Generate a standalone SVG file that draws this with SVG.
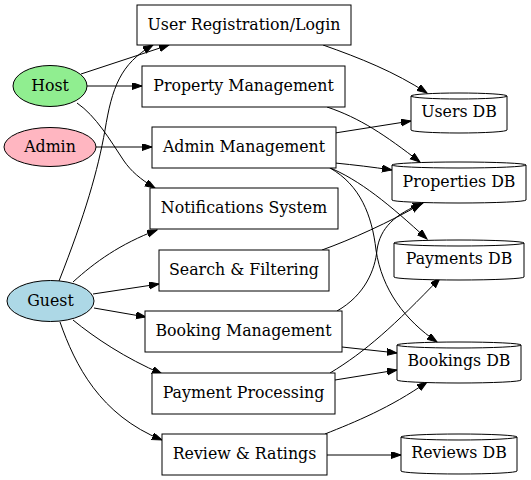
<svg xmlns="http://www.w3.org/2000/svg" width="531" height="480" viewBox="0 0 531 480">
<defs>
<marker id="ah" markerUnits="userSpaceOnUse" markerWidth="11" markerHeight="8" refX="10" refY="3.5" orient="auto" viewBox="0 0 11 8">
<path d="M0,0 L10,3.5 L0,7 Z" fill="#000" stroke="#000" stroke-width="1"/>
</marker>
</defs>
<style>
text{font-family:"DejaVu Serif","Liberation Serif",serif;font-size:15.8px;text-anchor:middle;fill:#000}
.n{stroke:#000;stroke-width:1;fill:#fff}
.e path{fill:none;stroke:#000;stroke-width:1;marker-end:url(#ah)}
</style>
<rect width="531" height="480" fill="#fff"/>
<g class="e" id="edges">
<path d="M81,74 L169,45"/>
<path d="M59,281 C85,215 98,170 105,130 C112,88 120,64 153,45"/>
<path d="M87,86 L142,86"/>
<path d="M77,103 C96,116 110,140 124,161 C131,171 140,179 155,188"/>
<path d="M96,147 L152,147"/>
<path d="M73,282 C95,262 120,244 157,230"/>
<path d="M93,294 L159,284"/>
<path d="M94,308 L146,317"/>
<path d="M73,320 C95,338 125,358 162,374"/>
<path d="M60,322 C75,365 100,415 162,440"/>
<path d="M323,45 C360,58 395,72 427,93"/>
<path d="M327,107 C360,118 385,135 420,162"/>
<path d="M335,133 L411,121"/>
<path d="M335,163 C355,165 372,167 392,170"/>
<path d="M328,167 C360,180 390,205 427,239"/>
<path d="M330,168 C360,185 372,215 376,250 C382,290 405,320 437,342"/>
<path d="M322,250 C350,240 390,222 421,204"/>
<path d="M337,311 C365,295 375,270 377,250 C380,228 395,214 423,203"/>
<path d="M342,347 L397,353"/>
<path d="M330,373 C365,352 395,325 440,278"/>
<path d="M335,380 L397,370"/>
<path d="M325,434 C355,422 390,408 427,382"/>
<path d="M327,455 L401,455"/>
</g>
<g id="host"><ellipse class="n" cx="50" cy="86" rx="37" ry="20.5" style="fill:#90ee90"/><text x="50" y="91">Host</text></g>
<g id="admin"><ellipse class="n" cx="50" cy="147" rx="46" ry="19.5" style="fill:#ffb6c1"/><text x="50" y="152">Admin</text></g>
<g id="guest"><ellipse class="n" cx="50.5" cy="301" rx="43.5" ry="20.5" style="fill:#add8e6"/><text x="50.5" y="306">Guest</text></g>
<g id="userreg"><rect class="n" x="137" y="5" width="214" height="40"/><text x="244" y="30">User Registration/Login</text></g>
<g id="propmgmt"><rect class="n" x="142" y="66" width="203" height="41"/><text x="243.5" y="91">Property Management</text></g>
<g id="adminmgmt"><rect class="n" x="152" y="127" width="184" height="41"/><text x="244" y="152">Admin Management</text></g>
<g id="notif"><rect class="n" x="150" y="188" width="188" height="41"/><text x="244" y="213">Notifications System</text></g>
<g id="search"><rect class="n" x="159" y="250" width="170" height="41"/><text x="244" y="275">Search &amp; Filtering</text></g>
<g id="booking"><rect class="n" x="145" y="311" width="197" height="41"/><text x="243.5" y="336">Booking Management</text></g>
<g id="payment"><rect class="n" x="152" y="373" width="183" height="41"/><text x="243.5" y="398">Payment Processing</text></g>
<g id="review"><rect class="n" x="162" y="434" width="165" height="41"/><text x="244.5" y="459">Review &amp; Ratings</text></g>
<g id="usersdb"><path class="n" d="M411,96 L411,130 A48,3 0 0 0 507,130 L507,96 A48,3 0 0 0 411,96 Z M411,96 A48,3 0 0 0 507,96"/><text x="459" y="117">Users DB</text></g>
<g id="propdb"><path class="n" d="M392,165 L392,200 A67,3 0 0 0 526,200 L526,165 A67,3 0 0 0 392,165 Z M392,165 A67,3 0 0 0 526,165"/><text x="459" y="187">Properties DB</text></g>
<g id="paydb"><path class="n" d="M394,243 L394,277 A65,3 0 0 0 524,277 L524,243 A65,3 0 0 0 394,243 Z M394,243 A65,3 0 0 0 524,243"/><text x="459" y="264">Payments DB</text></g>
<g id="bookdb"><path class="n" d="M397,345 L397,380 A62,3 0 0 0 521,380 L521,345 A62,3 0 0 0 397,345 Z M397,345 A62,3 0 0 0 521,345"/><text x="459" y="366">Bookings DB</text></g>
<g id="revdb"><path class="n" d="M401,437 L401,471 A58,3 0 0 0 517,471 L517,437 A58,3 0 0 0 401,437 Z M401,437 A58,3 0 0 0 517,437"/><text x="459" y="458">Reviews DB</text></g>
</svg>
